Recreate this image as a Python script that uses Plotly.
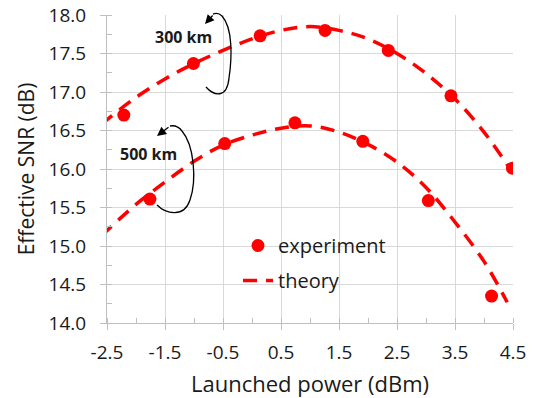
import plotly.graph_objects as go

# Experimental points
exp300_x = [-2.21, -1.01, 0.14, 1.26, 2.35, 3.43, 4.49]
exp300_y = [16.70, 17.37, 17.73, 17.80, 17.54, 16.95, 16.01]
exp500_x = [-1.76, -0.47, 0.74, 1.91, 3.04, 4.13]
exp500_y = [15.61, 16.33, 16.60, 16.36, 15.59, 14.35]

# Theory curves
th300_x = [-2.6, -2.0, -1.5, -1.0, -0.5, 0.0, 0.5, 1.0, 1.5, 2.0, 2.5, 3.0, 3.5, 4.0, 4.45]
th300_y = [16.58, 16.93, 17.17, 17.37, 17.54, 17.69, 17.80, 17.85, 17.80, 17.69, 17.50, 17.24, 16.91, 16.48, 16.00]
th500_x = [-2.6, -2.0, -1.5, -1.0, -0.5, 0.0, 0.5, 1.0, 1.5, 2.0, 2.5, 3.0, 3.5, 4.0, 4.4]
th500_y = [15.13, 15.54, 15.83, 16.10, 16.31, 16.44, 16.53, 16.56, 16.48, 16.32, 16.09, 15.76, 15.31, 14.80, 14.27]

x_ticks = [-2.5, -1.5, -0.5, 0.5, 1.5, 2.5, 3.5, 4.5]
y_ticks = [14.0, 14.5, 15.0, 15.5, 16.0, 16.5, 17.0, 17.5, 18.0]

RED = "#ff0000"
FONT = "Open Sans"
TXT = "#1a1a1a"
GRID = "#d9d9d9"
AXL = "#bfbfbf"

W, H = 534, 398
ML, MR, MT, MB = 107, 21, 15, 75
PW, PH = W - ML - MR, H - MT - MB


def fx(p):
    return (p - ML) / PW


def fy(p):
    return (H - MB - p) / PH


fig = go.Figure()

line_style = dict(color=RED, width=3.5, dash="14px,9px", shape="spline", smoothing=1.0)
fig.add_trace(go.Scatter(x=exp300_x, y=exp300_y, mode="markers",
                         marker=dict(color=RED, size=13), name="experiment",
                         legendgroup="exp", showlegend=True))
fig.add_trace(go.Scatter(x=exp500_x, y=exp500_y, mode="markers",
                         marker=dict(color=RED, size=13), name="experiment",
                         legendgroup="exp", showlegend=False))
fig.add_trace(go.Scatter(x=th300_x, y=th300_y, mode="lines", line=line_style,
                         name="theory", legendgroup="th", showlegend=True))
fig.add_trace(go.Scatter(x=th500_x, y=th500_y, mode="lines", line=line_style,
                         name="theory", legendgroup="th", showlegend=False))


def P(pts):
    s = "M {:.4f},{:.4f}".format(fx(pts[0][0]), fy(pts[0][1]))
    rest = pts[1:]
    for i in range(0, len(rest), 3):
        a, b, c = rest[i], rest[i + 1], rest[i + 2]
        s += " C {:.4f},{:.4f} {:.4f},{:.4f} {:.4f},{:.4f}".format(
            fx(a[0]), fy(a[1]), fx(b[0]), fy(b[1]), fx(c[0]), fy(c[1]))
    return s


arc300 = [(206, 87), (214, 96), (227, 99), (229, 78), (232, 58), (233, 28), (222, 16),
          (219, 13), (216, 13), (213, 14)]
arc500 = [(157, 205), (166, 214), (184, 218), (190, 200), (197, 180), (194, 145), (182, 131),
          (179, 127), (175, 125), (170, 126)]

shapes = [
    dict(type="rect", xref="paper", yref="paper", x0=fx(223), x1=fx(400), y0=fy(304), y1=fy(225),
         fillcolor="white", line=dict(width=0), layer="between"),
    dict(type="path", xref="paper", yref="paper", path=P(arc300), line=dict(color="black", width=1.3)),
    dict(type="path", xref="paper", yref="paper", path=P(arc500), line=dict(color="black", width=1.3)),
]

annotations = [
    dict(xref="paper", yref="paper", x=fx(183.5), y=fy(37), xanchor="center", yanchor="middle",
         text="<b>300 km</b>", showarrow=False, font=dict(family=FONT, size=16, color=TXT)),
    dict(xref="paper", yref="paper", x=fx(148.5), y=fy(154), xanchor="center", yanchor="middle",
         text="<b>500 km</b>", showarrow=False, font=dict(family=FONT, size=16, color=TXT)),
    dict(xref="paper", yref="paper", x=fx(205), y=fy(24), ax=9, ay=-10, text="", showarrow=True,
         arrowhead=2, arrowsize=1.4, arrowwidth=1.3, arrowcolor="black", standoff=0),
    dict(xref="paper", yref="paper", x=fx(157), y=fy(136), ax=13, ay=-10, text="", showarrow=True,
         arrowhead=2, arrowsize=1.4, arrowwidth=1.3, arrowcolor="black", standoff=0),
]

fig.update_layout(
    width=W, height=H,
    margin=dict(l=ML, r=MR, t=MT, b=MB, autoexpand=False),
    paper_bgcolor="white", plot_bgcolor="white",
    font=dict(family=FONT, color=TXT),
    shapes=shapes,
    annotations=annotations,
    legend=dict(x=fx(238), y=fy(226), xanchor="left", yanchor="top",
                bgcolor="rgba(0,0,0,0)", font=dict(family=FONT, size=20, color=TXT),
                traceorder="grouped", tracegroupgap=6, itemwidth=30),
    xaxis=dict(range=[-2.5, 4.5], tickmode="array", tickvals=x_ticks,
               ticktext=["{:.1f}".format(v) for v in x_ticks], automargin=False,
               showgrid=True, gridcolor=GRID, gridwidth=1, zeroline=False,
               showline=True, linecolor=AXL, linewidth=1,
               ticks="outside", ticklen=6, tickcolor=AXL, ticklabelstandoff=6,
               minor=dict(dtick=0.5, tick0=-2.5, ticks="inside", ticklen=5, tickcolor=AXL, showgrid=False),
               tickfont=dict(family=FONT, size=19, color=TXT),
               title=dict(text="Launched power (dBm)", font=dict(family=FONT, size=22, color=TXT), standoff=14)),
    yaxis=dict(range=[14, 18], tickmode="array", tickvals=y_ticks,
               ticktext=["{:.1f}".format(v) for v in y_ticks], automargin=False,
               showgrid=True, gridcolor=GRID, gridwidth=1, zeroline=False,
               showline=True, linecolor=AXL, linewidth=1,
               ticks="outside", ticklen=6, tickcolor=AXL, ticklabelstandoff=10,
               minor=dict(dtick=0.25, tick0=14, ticks="inside", ticklen=5, tickcolor=AXL, showgrid=False),
               tickfont=dict(family=FONT, size=19, color=TXT),
               title=dict(text="Effective SNR (dB)", font=dict(family=FONT, size=21, color=TXT), standoff=8)),
)

fig.write_html("out.html")
